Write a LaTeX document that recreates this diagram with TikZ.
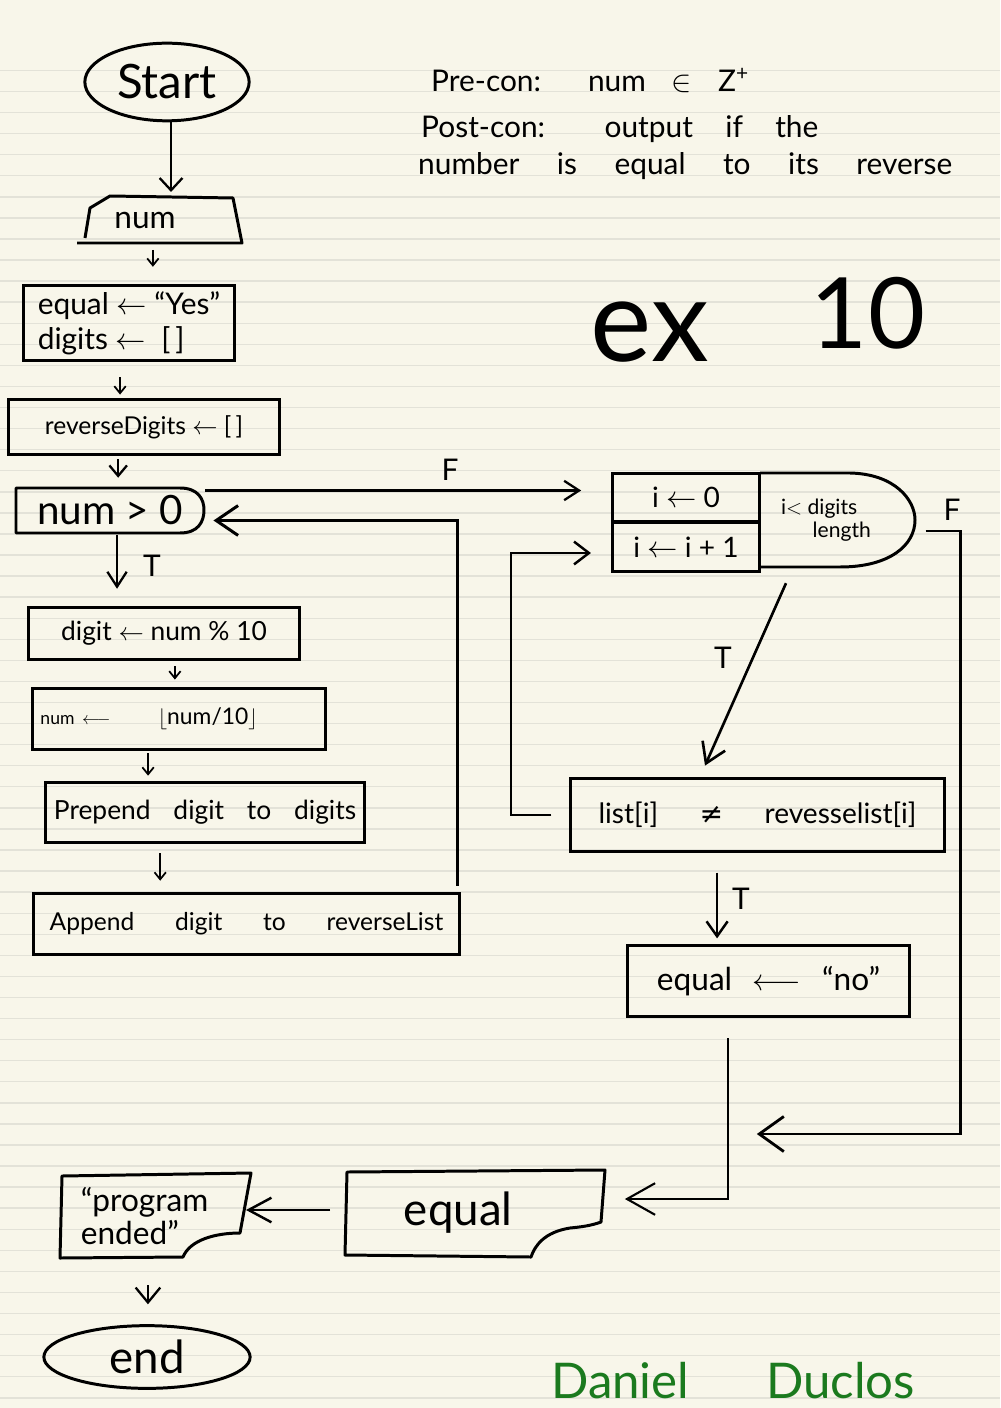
\documentclass[tikz,border=0pt]{standalone}
\usepackage{fontspec}
\setmainfont{Lato}
\newfontfamily\dejavu{DejaVu Sans}
\usetikzlibrary{arrows.meta,shapes.geometric}
\definecolor{paper}{HTML}{F8F6EA}
\definecolor{ruleline}{HTML}{E3E2D8}
\definecolor{sig}{HTML}{1B7A1E}
\newcommand\fsz[2]{\fontsize{#1}{#2}\selectfont}
\tikzset{
  box/.style={draw, line width=1.7pt, inner sep=0pt},
  outline/.style={line width=1.7pt, line join=round},
  lbl/.style={font=\fsz{17pt}{19pt}},
  ar/.style 2 args={line width=1.3pt, -{Straight Barb[length=#1,width=#2]}},
  sarrow/.style={line width=1pt, -{Straight Barb[length=4pt,width=6.5pt]}}
}
\begin{document}
\begin{tikzpicture}[x=0.02cm,y=-0.02cm]
\useasboundingbox[fill=paper] (0,0) rectangle (1000,1408);
\foreach \k in {0,...,63}
  \draw[ruleline, line width=0.8pt] (0,{70.4+21.07*\k}) -- (1000,{70.4+21.07*\k});

% header text
\node[anchor=base west, font=\fsz{17pt}{19pt}] (pre) at (425,92) {\makebox[181pt][s]{Pre-con: num $\in$ Z\textsuperscript{+}}};
\node[anchor=base west, font=\fsz{17pt}{19pt}] (post) at (415,138) {\makebox[226pt][s]{Post-con: output if the}};
\node[anchor=base west, font=\fsz{17pt}{19pt}] (post2) at (412,175) {\makebox[304pt][s]{number is equal to its reverse}};
\node[font=\fsz{66pt}{68pt}] (ex) at (650,332) {ex};
\node[font=\fsz{56pt}{58pt}] (ten) at (868,313) {10};

% left column
\node[box, ellipse, minimum width=93.5pt, minimum height=44.2pt, font=\fsz{27pt}{30pt}] (start) at (167,82) {Start};
\node[minimum width=93.5pt, minimum height=25.5pt, inner sep=0pt, font=\fsz{18pt}{20pt}] (num) at (145,220) {num};
\draw[outline] (77,243) -- (242,243) -- (233,198) -- (110,196) -- (90,208) -- (85,238);
\node[box, minimum width=120.2pt, minimum height=43.1pt, align=left, font=\fsz{17pt}{20pt}] (init) at (129,323) {equal $\leftarrow$ ``Yes''\\digits $\leftarrow$\ \ [\,]};
\node[box, minimum width=154.2pt, minimum height=31.2pt, font=\fsz{14pt}{16pt}] (rev) at (144,427) {reverseDigits $\leftarrow$ [\,]};
\node[minimum width=106pt, minimum height=25.5pt, inner sep=0pt, font=\fsz{23pt}{25pt}] (cond1) at (110,510.5) {num > 0};
\draw[outline] (16,488) -- (180,488) .. controls (198,488) and (204,499) .. (204,510) .. controls (204,522) and (198,533) .. (180,533) -- (16,533) -- cycle;
\node[box, minimum width=154.2pt, minimum height=30pt, font=\fsz{15pt}{17pt}] (digit) at (164,633.5) {digit $\leftarrow$ num \% 10};
\node[box, minimum width=166.7pt, minimum height=35.2pt, text width=157.7pt, align=left, font=\fsz{13pt}{15pt}] (num2) at (179,719) {{\fsz{10pt}{11pt}num $\longleftarrow$}\hspace{27pt}$\lfloor$num/10$\rfloor$};
\node[box, minimum width=181.4pt, minimum height=34.6pt, font=\fsz{15pt}{17pt}] (prep) at (205,812.5) {\makebox[172pt][s]{Prepend digit to digits}};
\node[box, minimum width=242pt, minimum height=35.2pt, font=\fsz{14pt}{16pt}] (app) at (246.5,924) {\makebox[224pt][s]{Append digit to reverseList}};

% right column
\node[box, minimum width=83.9pt, minimum height=27.8pt, font=\fsz{16pt}{18pt}] (ini) at (686,497.5) {i $\leftarrow$ 0};
\node[box, minimum width=83.9pt, minimum height=28.3pt, font=\fsz{16pt}{18pt}] (inc) at (686,547) {i $\leftarrow$ i + 1};
\node[minimum width=87.9pt, minimum height=53.3pt, inner sep=0pt, align=left, font=\fsz{12pt}{13pt}] (cond2) at (826,520) {i$<$ digits\\\hspace*{1.5em}length};
\draw[outline] (760,473) -- (850,473) .. controls (895,474) and (915,500) .. (915,520) .. controls (915,545) and (890,567) .. (840,567) -- (760,567);
\node[box, minimum width=212.6pt, minimum height=42pt, font=\fsz{16pt}{18pt}] (list) at (757.5,815) {\makebox[181pt][s]{list[i] {\dejavu ≠} revesselist[i]}};
\node[box, minimum width=160.4pt, minimum height=40.8pt, font=\fsz{18pt}{20pt}] (no) at (768.5,981) {\makebox[127pt][s]{equal $\longleftarrow$ ``no''}};

% bottom
\node[minimum width=147.4pt, minimum height=48.2pt, inner sep=0pt, font=\fsz{26pt}{28pt}] (eqout) at (475,1213) {\hspace*{-19pt}equal};
\draw[outline] (345,1255) -- (347,1172) -- (605,1170) -- (601,1222) .. controls (590,1226) and (580,1227) .. (570,1228) .. controls (545,1232) and (535,1245) .. (531,1257) -- cycle;
\node[minimum width=108.3pt, minimum height=47.6pt, inner sep=0pt, align=left, text width=85pt, font=\fsz{18pt}{19pt}] (prog) at (155.5,1216) {``program\\ended''};
\draw[outline] (60,1258) -- (62,1176) -- (251,1173) -- (240,1233) .. controls (215,1233) and (190,1240) .. (183,1257) -- cycle;
\node[box, ellipse, minimum width=117.4pt, minimum height=35.7pt, font=\fsz{26pt}{28pt}] (end) at (147,1357) {end};
\node[anchor=base west, text=sig, font=\fsz{28pt}{30pt}] (sign) at (545,1398) {\makebox[207pt][s]{Daniel Duclos}};

% connectors
\draw[ar={7pt}{13pt}, shorten >=3pt] ([xshift=2.3pt]start.south) -- ([xshift=2.3pt]start.south |- num.north);
\draw[sarrow, shorten <=4pt, shorten >=9.6pt] ([xshift=4.5pt]num.south) -- ([xshift=4.5pt]num.south |- init.north);
\draw[sarrow, shorten <=8.5pt, shorten >=2pt] ([xshift=-5.1pt]init.south) -- ([xshift=-5.1pt]init.south |- rev.north);
\draw[ar={6pt}{10pt}, shorten <=2pt, shorten >=5.7pt] ([xshift=-14.7pt]rev.south) -- ([xshift=-14.7pt]rev.south |- cond1.north);
\draw[ar={8.5pt}{11pt}, shorten <=1pt, shorten >=9.6pt] ([xshift=4pt]cond1.south) -- ([xshift=4pt]cond1.south |- digit.north);
\node[lbl] (t1) at (152,566) {T};
\draw[sarrow, shorten <=2.8pt, shorten >=4pt] ([xshift=6.2pt]digit.south) -- ([xshift=6.2pt]digit.south |- num2.north);
\draw[sarrow, shorten <=1.1pt, shorten >=2.8pt] ([xshift=-17.6pt]num2.south) -- ([xshift=-17.6pt]num2.south |- prep.north);
\draw[sarrow, shorten <=5pt, shorten >=6.2pt] ([xshift=-25.5pt]prep.south) -- ([xshift=-25.5pt]prep.south |- app.north);
\draw[ar={12.5pt}{17pt}, line width=1.7pt] ([shift={(-3,-6)}]app.north east) |- ([shift={(10,10)}]cond1.east);
\draw[ar={8.5pt}{11pt}, shorten >=18pt] ([shift={(2,-20)}]cond1.east) -- ([shift={(2,-20)}]cond1.east -| ini.west);
\node[lbl] (f1) at (450,470) {F};
\draw[ar={8.5pt}{13pt}, line width=1.4pt, shorten >=11.3pt] ([shift={(-18,0)}]list.west) -- ++(-40,0) |- ([shift={(0,6)}]inc.west);
\draw[ar={11pt}{14pt}, line width=1.5pt] ([shift={(-40,16)}]cond2.south) -- ([shift={(-52.5,-11)}]list.north);
\node[lbl] (t2) at (723,658) {T};
\draw[ar={14pt}{20pt}, line width=1.6pt] ([shift={(22,11)}]cond2.east) -- ++(35,0) |- ([shift={(152,-79)}]eqout.east);
\node[lbl] (f2) at (952,510) {F};
\draw[ar={8.5pt}{12pt}, line width=1.4pt, shorten <=11pt, shorten >=3pt] ([xshift=-23pt]list.south) -- ([xshift=-23pt]list.south |- no.north);
\node[lbl] (t3) at (741,899) {T};
\draw[ar={16pt}{18pt}, line width=1.2pt] ([shift={(-40.5,20)}]no.south) |- ([shift={(20,-14)}]eqout.east);
\draw[ar={13pt}{14pt}, line width=1.4pt, shorten >=5.7pt] ([shift={(-15,-3)}]eqout.west) -- ([shift={(-15,-3)}]eqout.west -| prog.east);
\draw[ar={8.5pt}{14pt}, line width=1.3pt, shorten <=15.3pt, shorten >=11.3pt] ([xshift=-4.3pt]prog.south) -- ([xshift=-4.3pt]prog.south |- end.north);
\end{tikzpicture}
\end{document}
